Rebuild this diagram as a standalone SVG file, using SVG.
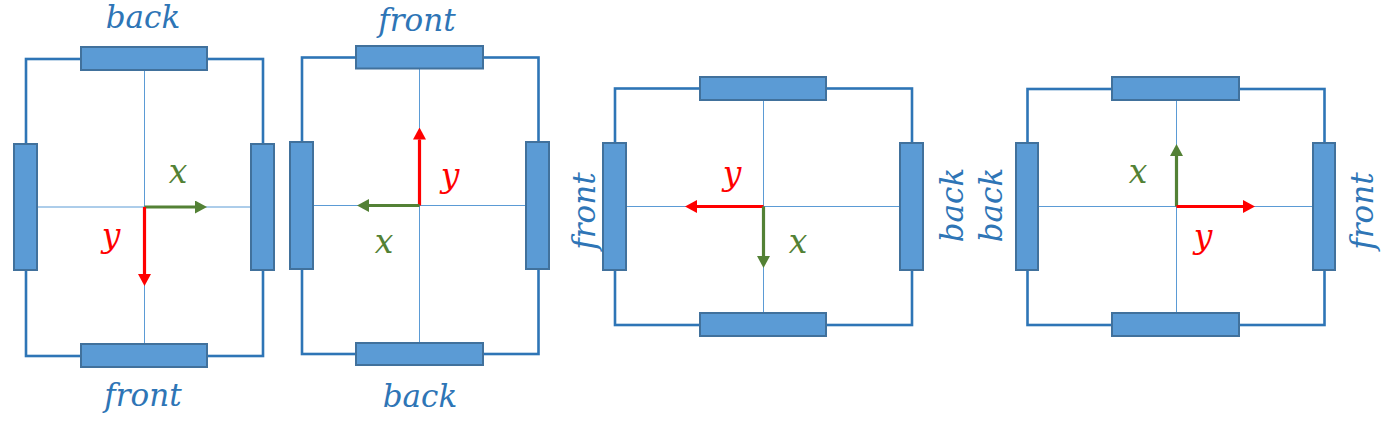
<svg xmlns="http://www.w3.org/2000/svg" width="1392" height="428" viewBox="0 0 1392 428">
<defs>
<style>
.frame{fill:none;stroke:#2E75B6;stroke-width:2.6}
.wheel{fill:#5B9BD5;stroke:#41719C;stroke-width:2}
.axis{stroke:#5B9BD5;stroke-width:1}
.red{stroke:#FF0000;stroke-width:3.2;fill:none}
.green{stroke:#538135;stroke-width:3.2;fill:none}
.lbl{fill:#2E75B6;text-anchor:middle;font-size:31px}
.ax{text-anchor:middle;font-size:33px}
</style>
<marker id="hr" markerUnits="userSpaceOnUse" markerWidth="12" markerHeight="13" refX="0" refY="6.5" orient="auto" viewBox="0 0 12 13"><path d="M0,0 L12,6.5 L0,13 z" fill="#FF0000"/></marker>
<marker id="hg" markerUnits="userSpaceOnUse" markerWidth="12" markerHeight="13" refX="0" refY="6.5" orient="auto" viewBox="0 0 12 13"><path d="M0,0 L12,6.5 L0,13 z" fill="#538135"/></marker>
</defs>
<g font-family="DejaVu Serif, serif" font-style="italic">
<g id="robot1">
<rect class="frame" x="26" y="59" width="237" height="297"/>
<line class="axis" x1="144.5" y1="70" x2="144.5" y2="344"/>
<line class="axis" x1="37" y1="207" x2="251" y2="207"/>
<rect class="wheel" x="81" y="47" width="126" height="23"/>
<rect class="wheel" x="81" y="344" width="126" height="23"/>
<rect class="wheel" x="14" y="144" width="23" height="126"/>
<rect class="wheel" x="251" y="144" width="23" height="126"/>
<text class="lbl" x="143" y="28">back</text>
<text class="lbl" x="143" y="406">front</text>
<text class="ax" x="178" y="183" fill="#538135">x</text>
<text class="ax" x="111" y="247" fill="#FF0000">y</text>
</g>

<g id="robot2">
<rect class="frame" x="302" y="57.5" width="236.5" height="296.5"/>
<line class="axis" x1="419.5" y1="68.5" x2="419.5" y2="343"/>
<line class="axis" x1="313" y1="205.5" x2="526" y2="205.5"/>
<rect class="wheel" x="356" y="46" width="127" height="22.5"/>
<rect class="wheel" x="356" y="343" width="127" height="22"/>
<rect class="wheel" x="290" y="142" width="23" height="127"/>
<rect class="wheel" x="526" y="142" width="23" height="127"/>
<text class="lbl" x="417" y="31">front</text>
<text class="lbl" x="420" y="407">back</text>
<text class="ax" x="450" y="187" fill="#FF0000">y</text>
<text class="ax" x="384" y="253" fill="#538135">x</text>
</g>

<g id="robot3">
<rect class="frame" x="615" y="88.5" width="297" height="236.5"/>
<line class="axis" x1="763.5" y1="100" x2="763.5" y2="313"/>
<line class="axis" x1="626" y1="206.5" x2="900" y2="206.5"/>
<rect class="wheel" x="700" y="77" width="126" height="23"/>
<rect class="wheel" x="700" y="313" width="126" height="23"/>
<rect class="wheel" x="603" y="143" width="23" height="127"/>
<rect class="wheel" x="900" y="143" width="23" height="127"/>
<text class="lbl" transform="translate(595,211) rotate(-90)">front</text>
<text class="lbl" transform="translate(962.5,205) rotate(-90)">back</text>
<text class="ax" x="732" y="185" fill="#FF0000">y</text>
<text class="ax" x="798" y="253" fill="#538135">x</text>
</g>

<g id="robot4">
<rect class="frame" x="1027.5" y="89" width="297" height="236"/>
<line class="axis" x1="1176.5" y1="100" x2="1176.5" y2="313"/>
<line class="axis" x1="1038" y1="206.5" x2="1313" y2="206.5"/>
<rect class="wheel" x="1112" y="77" width="127" height="23"/>
<rect class="wheel" x="1112" y="313" width="127" height="23"/>
<rect class="wheel" x="1016" y="143" width="22" height="127"/>
<rect class="wheel" x="1313" y="143" width="22" height="127"/>
<text class="lbl" transform="translate(1001.5,205) rotate(-90)">back</text>
<text class="lbl" transform="translate(1373,211) rotate(-90)">front</text>
<text class="ax" x="1138" y="183" fill="#538135">x</text>
<text class="ax" x="1203" y="248" fill="#FF0000">y</text>
</g>
</g>
<g id="connectors">
<line class="green" x1="144.5" y1="207" x2="195" y2="207" marker-end="url(#hg)"/>
<line class="red" x1="144.5" y1="207" x2="144.5" y2="274" marker-end="url(#hr)"/>
<line class="red" x1="419.5" y1="205.5" x2="419.5" y2="139.5" marker-end="url(#hr)"/>
<line class="green" x1="419.5" y1="205.5" x2="369" y2="205.5" marker-end="url(#hg)"/>
<line class="red" x1="763.5" y1="206.5" x2="697" y2="206.5" marker-end="url(#hr)"/>
<line class="green" x1="763.5" y1="206.5" x2="763.5" y2="256" marker-end="url(#hg)"/>
<line class="green" x1="1176.5" y1="206.5" x2="1176.5" y2="156" marker-end="url(#hg)"/>
<line class="red" x1="1176.5" y1="206.5" x2="1243" y2="206.5" marker-end="url(#hr)"/>
</g>
</svg>
